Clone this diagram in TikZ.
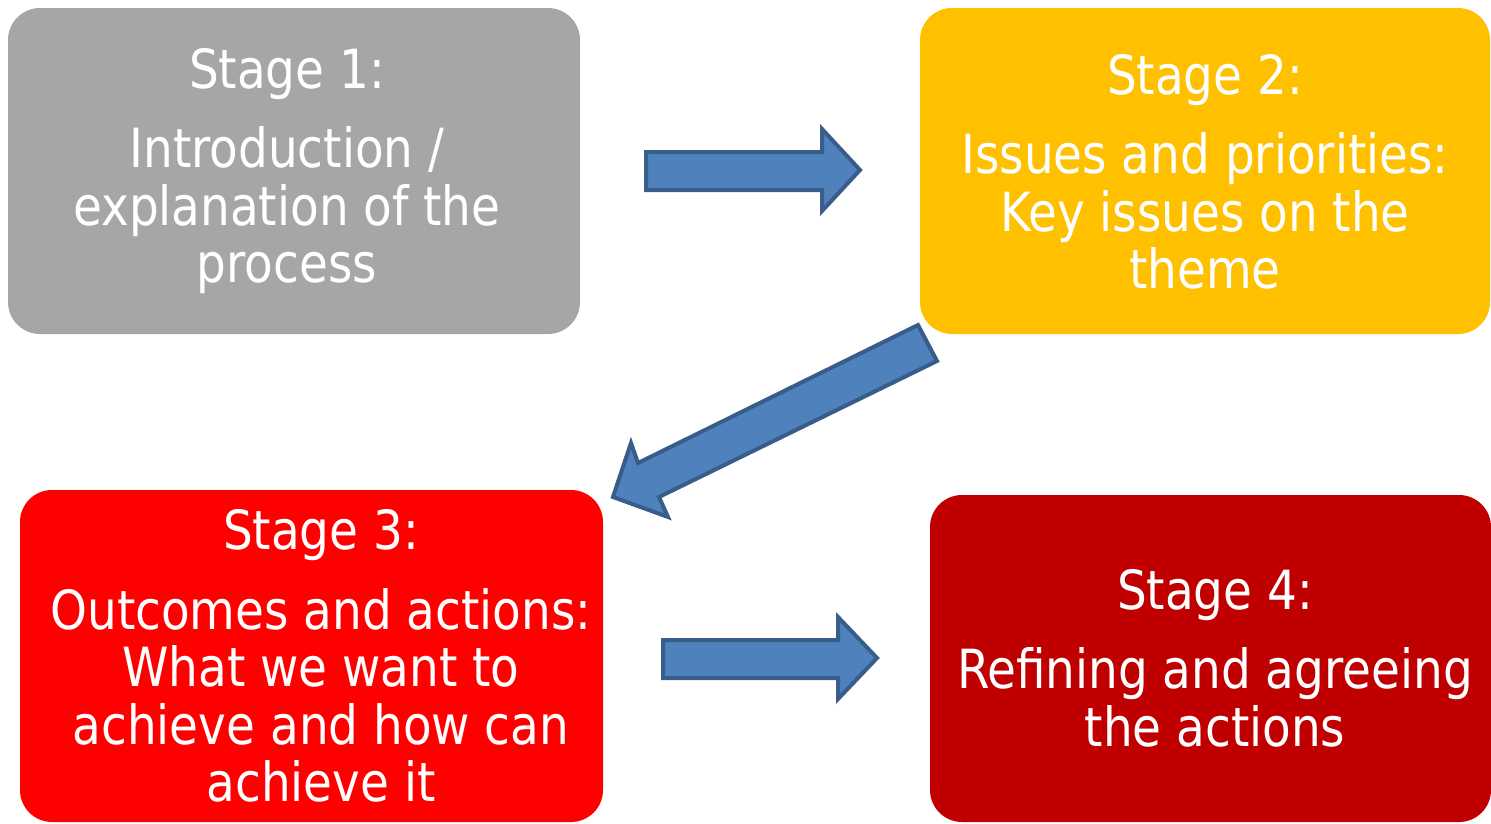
\documentclass[tikz,border=0pt]{standalone}
\usepackage{fontspec}
\setmainfont[FakeStretch=0.965]{DejaVu Sans Condensed}
\usetikzlibrary{calc}
\definecolor{cgray}{HTML}{A6A6A6}
\definecolor{cyellow}{HTML}{FFC000}
\definecolor{cred}{HTML}{FF0000}
\definecolor{cdred}{HTML}{C00000}
\definecolor{afill}{HTML}{4F81BD}
\definecolor{aline}{HTML}{385D8A}
\begin{document}
\begin{tikzpicture}[x=1bp,y=-1bp,
  stagebox/.style={rounded corners=32bp,inner sep=0pt},
  lbl/.style={text=white,align=center,inner sep=0pt,font=\fontsize{54bp}{57.5bp}\selectfont},
  blockarrow/.style={fill=afill,draw=aline,line width=4bp,line join=miter}]
\useasboundingbox (0,0) rectangle (1491,823);
% boxes
\path[stagebox,fill=cgray] (8,8) rectangle (580,334);
\node[inner sep=0pt] (b1) at (294,171) {};
\path[stagebox,fill=cyellow] (920,8) rectangle (1490,334);
\node[inner sep=0pt] (b2) at (1205,171) {};
\path[stagebox,fill=cred] (20,490) rectangle (603,822);
\node[inner sep=0pt] (b3) at (311,656) {};
\path[stagebox,fill=cdred] (930,495) rectangle (1491,822);
\node[inner sep=0pt] (b4) at (1210,658) {};
% labels
\node[lbl] (t1) at ($(b1)+(-7,0)$) {Stage 1:\\[22bp]Introduction /\\explanation of the\\process};
\node[lbl] (t2) at ($(b2)+(0,1)$) {Stage 2:\\[22bp]Issues and priorities:\\Key issues on the\\theme};
\node[lbl] (t3) at ($(b3)+(10,0)$) {Stage 3:\\[22bp]Outcomes and actions:\\What we want to\\achieve and how can\\achieve it};
\node[lbl] (t4) at ($(b4)+(5,0)$) {Stage 4:\\[22bp]Refining and agreeing\\the actions};
% arrows
\draw[blockarrow] (646,152) -- (822,152) -- (822,129) -- (860,170) -- (822,211) -- (822,190) -- (646,190) -- cycle;
\draw[blockarrow] (663,640) -- (838,640) -- (838,617) -- (877,658) -- (838,699) -- (838,678) -- (663,678) -- cycle;
\draw[blockarrow] (918,325) -- (937,361) -- (659,497) -- (668,517) -- (613,497) -- (631,443) -- (638,463) -- cycle;
\end{tikzpicture}
\end{document}
